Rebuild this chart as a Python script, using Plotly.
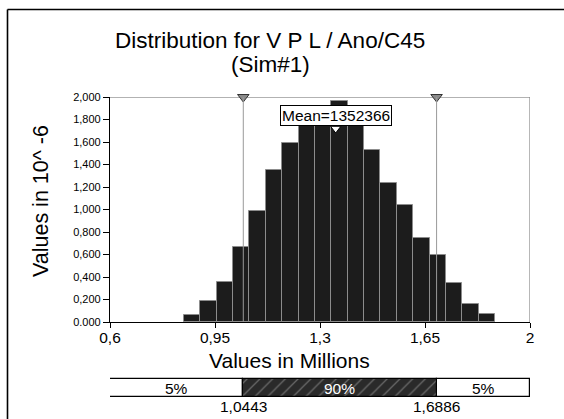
import plotly.graph_objects as go

# ---- data ----
bin_start = 0.8467
bin_width = 0.05456
densities = [0.065, 0.184, 0.360, 0.667, 0.985, 1.352, 1.592, 1.790, 1.870, 1.965,
             1.770, 1.526, 1.232, 1.044, 0.744, 0.599, 0.347, 0.163, 0.068]
bin_centers = [bin_start + bin_width * (i + 0.5) for i in range(len(densities))]

p5 = 1.0443
p95 = 1.6886
mean_val = 1.352366
mean_label = "Mean=1352366"
x_min, x_max = 0.6, 2.0

x_tickvals = [0.6, 0.95, 1.3, 1.65, 2.0]
x_ticktext = ["0,6", "0,95", "1,3", "1,65", "2"]
y_tickvals = [0, 0.2, 0.4, 0.6, 0.8, 1.0, 1.2, 1.4, 1.6, 1.8, 2.0]
y_ticktext = ["0.000", "0,200", "0,400", "0,600", "0,800", "1,000", "1,200",
              "1,400", "1,600", "1,800", "2,000"]

pct_labels = ["5%", "90%", "5%"]
pct_value_labels = ["1,0443", "1,6886"]

FONT = "Liberation Sans, Arial, sans-serif"

# layout geometry (pixels)
W, H = 564, 419
L, R, T, B = 110, 34, 97, 19
PW, PH = W - L - R, H - T - B


def px(p):
    return (p - L) / PW


def py(p):
    return (H - B - p) / PH


fig = go.Figure()

# histogram bars
fig.add_trace(go.Bar(
    x=bin_centers, y=densities, width=bin_width,
    marker=dict(color="#1c1c1c", line=dict(color="#8c8c8c", width=1)),
    xaxis="x", yaxis="y", showlegend=False, hoverinfo="skip"))

# percentile strip
fig.add_trace(go.Bar(
    y=[0, 0], x=[p5 - x_min, x_max - p95], base=[x_min, p95], orientation="h", width=1,
    marker=dict(color="white", line=dict(color="black", width=1.2)),
    cliponaxis=False, xaxis="x", yaxis="y2", showlegend=False, hoverinfo="skip"))
fig.add_trace(go.Bar(
    y=[0], x=[p95 - p5], base=[p5], orientation="h", width=1,
    marker=dict(color="#2a2a2a", line=dict(color="black", width=1.2),
                pattern=dict(shape="/", fgcolor="#a8a8a8", size=9, solidity=0.14,
                             fillmode="overlay")),
    cliponaxis=False, xaxis="x", yaxis="y2", showlegend=False, hoverinfo="skip"))

# percentile markers (gray triangles) on top
fig.add_trace(go.Scatter(
    x=[p5, p95], y=[2.0, 2.0], mode="markers",
    marker=dict(symbol="triangle-down", size=10, color="#8a8a8a",
                line=dict(color="#333333", width=1)),
    cliponaxis=False, showlegend=False, hoverinfo="skip"))

# mean marker
fig.add_trace(go.Scatter(
    x=[mean_val], y=[1.72], mode="markers",
    marker=dict(symbol="triangle-down", size=9, color="white",
                line=dict(color="black", width=1)),
    cliponaxis=False, showlegend=False, hoverinfo="skip"))

shapes = [
    # percentile vertical lines
    dict(type="line", xref="x", yref="y", x0=p5, x1=p5, y0=0, y1=2.0,
         line=dict(color="#9a9a9a", width=1), layer="above"),
    dict(type="line", xref="x", yref="y", x0=p95, x1=p95, y0=0, y1=2.0,
         line=dict(color="#9a9a9a", width=1), layer="above"),
    # top & right frame lines
    dict(type="line", xref="x", yref="y", x0=x_min, x1=x_max, y0=2.0, y1=2.0,
         line=dict(color="#666666", width=1.2), layer="below"),
    dict(type="line", xref="x", yref="y", x0=x_max, x1=x_max, y0=0, y1=2.0,
         line=dict(color="#888888", width=1.2)),
    # outer frame (top and left visible)
    dict(type="line", xref="paper", yref="paper",
         x0=px(7.5), x1=px(W), y0=py(9.5), y1=py(9.5),
         line=dict(color="black", width=1.6)),
    dict(type="line", xref="paper", yref="paper",
         x0=px(7.5), x1=px(7.5), y0=py(9.5), y1=py(H),
         line=dict(color="black", width=1.6)),
]

annotations = [
    dict(text="Distribution for V P L / Ano/C45", xref="paper", yref="paper",
         x=px(270), y=py(40), showarrow=False,
         font=dict(family=FONT, size=22.5, color="black"), xanchor="center", yanchor="middle"),
    dict(text="(Sim#1)", xref="paper", yref="paper",
         x=px(270), y=py(64.5), showarrow=False,
         font=dict(family=FONT, size=22.5, color="black"), xanchor="center", yanchor="middle"),
    dict(text="Values in 10^ -6", xref="paper", yref="paper",
         x=px(41), y=py(201), textangle=-90, showarrow=False,
         font=dict(family=FONT, size=21.5, color="black"), xanchor="center", yanchor="middle"),
    dict(text="Values in Millions", xref="paper", yref="paper",
         x=px(289), y=py(360), showarrow=False,
         font=dict(family=FONT, size=21, color="black"), xanchor="center", yanchor="middle"),
    dict(text=mean_label, xref="x", yref="y", x=mean_val, y=1.84, showarrow=False,
         font=dict(family=FONT, size=15.5, color="black"), bgcolor="white",
         bordercolor="black", borderwidth=1, borderpad=1,
         xanchor="center", yanchor="middle"),
]
mids = [(x_min + p5) / 2, (p5 + p95) / 2, (p95 + x_max) / 2]
for m, t, c in zip(mids, pct_labels, ["black", "white", "black"]):
    annotations.append(dict(text=t, xref="x", yref="y2", x=m, y=0, showarrow=False,
                            font=dict(family=FONT, size=15.5, color=c),
                            xanchor="center", yanchor="middle"))
for v, t in zip([p5, p95], pct_value_labels):
    annotations.append(dict(text=t, xref="x", yref="paper", x=v, y=py(406),
                            showarrow=False, font=dict(family=FONT, size=15.5, color="black"),
                            xanchor="center", yanchor="middle"))

fig.update_layout(
    width=W, height=H,
    margin=dict(l=L, r=R, t=T, b=B),
    paper_bgcolor="white", plot_bgcolor="white",
    bargap=0, barmode="overlay",
    font=dict(family=FONT, color="black"),
    xaxis=dict(range=[x_min, x_max], tickvals=x_tickvals, ticktext=x_ticktext,
               ticks="outside", ticklen=5, tickcolor="black", showline=True,
               linecolor="black", linewidth=1.2, showgrid=False, zeroline=False,
               anchor="y", ticklabelstandoff=-4,
               tickfont=dict(family=FONT, size=15.5, color="black")),
    yaxis=dict(domain=[py(322), 1.0], range=[0, 2.0], tickvals=y_tickvals,
               ticktext=y_ticktext, ticks="outside", ticklen=6, tickcolor="black",
               showline=True, linecolor="black", linewidth=1.2, showgrid=False,
               zeroline=False, tickfont=dict(family=FONT, size=11, color="black")),
    yaxis2=dict(domain=[0.0, py(376)], range=[-0.6667, 0.6667], visible=False, anchor="x"),
    shapes=shapes, annotations=annotations,
)

fig.write_html("out.html")
